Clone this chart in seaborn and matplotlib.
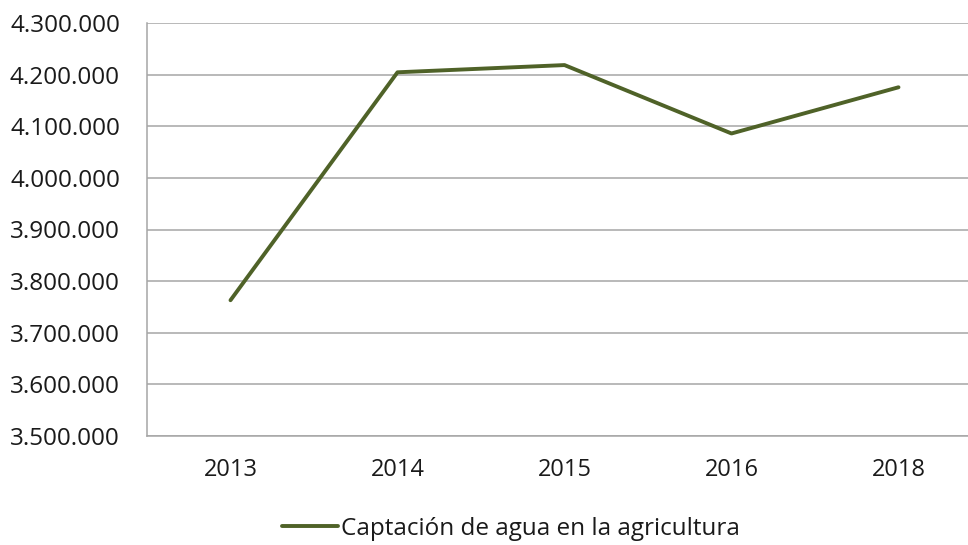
import numpy as np
import pandas as pd
import seaborn as sns
import matplotlib.pyplot as plt
from matplotlib.ticker import FuncFormatter, FixedLocator

years = ["2013", "2014", "2015", "2016", "2018"]
captacion = [3763000, 4204500, 4218500, 4086000, 4175500]
serie = "Captación de agua en la agricultura"

df = pd.DataFrame({"anio": years, "valor": captacion})

sns.set_style("white")
plt.rcParams['font.family'] = ['Open Sans', 'DejaVu Sans']

fig = plt.figure(figsize=(9.68, 5.45), dpi=100)
ax = fig.add_axes([147/968, 109/545, 835/968, 413/545])

grid_c = "#a6a6a6"
sns.lineplot(data=df, x="anio", y="valor", sort=False, color="#4f6228",
             linewidth=2.8, ax=ax, label=serie, legend=False)

ax.set_xlim(-0.5, 4.5)
ax.set_ylim(3500000, 4300000)
ax.set_yticks(np.arange(3500000, 4300001, 100000))
ax.yaxis.set_major_formatter(FuncFormatter(lambda v, p: f"{int(v):,}".replace(",", ".")))
ax.grid(axis="y", color=grid_c, linewidth=1.1)
ax.set_axisbelow(True)

for s in ["top", "right"]:
    ax.spines[s].set_visible(False)
for s in ["left", "bottom"]:
    ax.spines[s].set_color(grid_c)
    ax.spines[s].set_linewidth(1.1)

ax.tick_params(axis="y", length=6.5, color=grid_c, width=1.1, labelsize=17.5,
               labelcolor="#1a1a1a", pad=13)
ax.tick_params(axis="x", which="major", length=0, labelsize=17,
               labelcolor="#1a1a1a", pad=16)
ax.xaxis.set_minor_locator(FixedLocator(np.arange(-0.5, 5, 1)))
ax.tick_params(axis="x", which="minor", length=7, color=grid_c, width=1.1)
ax.set_xlabel("")
ax.set_ylabel("")

h, l = ax.get_legend_handles_labels()
fig.legend(h, l, loc="center", bbox_to_anchor=(511/968, 1 - 529/545), frameon=False,
           fontsize=17.5, handlelength=2.3, handletextpad=0.1, labelcolor="#1a1a1a")

fig.savefig("out.png", dpi=100)
